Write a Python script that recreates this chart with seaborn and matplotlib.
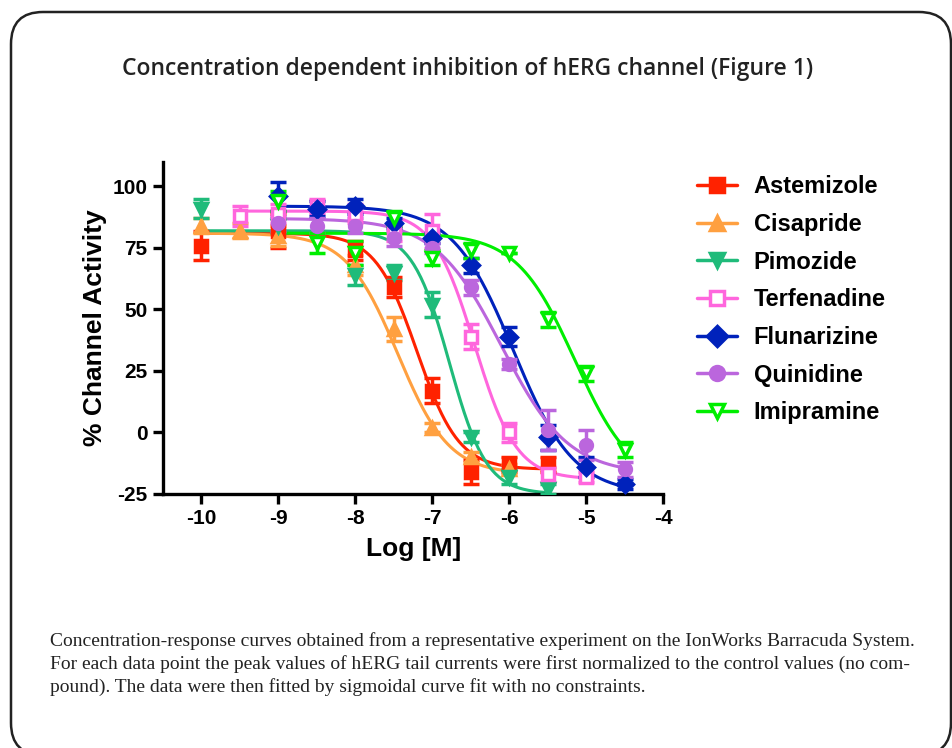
import numpy as np
import pandas as pd
import seaborn as sns
import matplotlib.pyplot as plt
from matplotlib.patches import FancyBboxPatch
from matplotlib.lines import Line2D

# dados (log[M], % atividade, erro)
compounds = ['Astemizole', 'Cisapride', 'Pimozide', 'Terfenadine',
             'Flunarizine', 'Quinidine', 'Imipramine']

astemizole_x = [-10, -9, -8, -7.5, -7, -6.5, -6, -5.5]
astemizole_y = [76, 82, 74, 59, 17, -16, -13, -13]
astemizole_e = [6, 7, 4, 4, 5, 5, 3, 3]

cisapride_x = [-10, -9.5, -9, -8, -7.5, -7, -6.5, -6]
cisapride_y = [84, 82, 80, 68, 42, 2, -10, -15]
cisapride_e = [3, 3, 4, 4, 5, 2, 2, 2]

pimozide_x = [-10, -9, -8, -7.5, -7, -6.5, -6, -5.5]
pimozide_y = [91, 84, 64, 65, 52, -2, -18, -23]
pimozide_e = [4, 3, 4, 3, 5, 2, 3, 2]

terfenadine_x = [-9.5, -9, -8.5, -8, -7.5, -7, -6.5, -6, -5.5, -5]
terfenadine_y = [88, 89, 92, 89, 81, 82, 39, 0, -17, -18]
terfenadine_e = [4, 4, 3, 4, 3, 7, 5, 4, 3, 2]

flunarizine_x = [-9, -8.5, -8, -7.5, -7, -6.5, -6, -5.5, -5, -4.5]
flunarizine_y = [96, 91, 92, 85, 79, 68, 39, -2, -14, -21]
flunarizine_e = [6, 3, 3, 2, 2, 3, 4, 5, 4, 2]

quinidine_x = [-9, -8.5, -8, -7.5, -7, -6.5, -6, -5.5, -5, -4.5]
quinidine_y = [85, 84, 84, 79, 75, 59, 28, 1, -5, -15]
quinidine_e = [3, 3, 3, 3, 2, 3, 2, 8, 6, 3]

imipramine_x = [-9, -8.5, -8, -7.5, -7, -6.5, -6, -5.5, -5, -4.5]
imipramine_y = [94, 77, 73, 87, 71, 74, 73, 46, 24, -7]
imipramine_e = [4, 4, 5, 3, 3, 3, 0, 3, 3, 3]

# parametros do ajuste sigmoidal (topo, base, logIC50, hill)
fit_top = [81, 81, 82, 90, 92, 87, 81]
fit_bottom = [-15, -17, -25, -19, -25, -17, -22]
fit_logic50 = [-7.2, -7.45, -6.78, -6.45, -5.95, -6.1, -5.15]
fit_hill = [1.6, 1.3, 1.8, 1.6, 1.1, 1.0, 1.15]

colors = ['#ff2200', '#ffa040', '#1fbb7a', '#ff66dd', '#0022bb', '#bb66dd', '#00ee00']
markers = ['s', '^', 'v', 's', 'D', 'o', 'v']
open_marker = [False, False, False, True, False, False, True]

xs = [astemizole_x, cisapride_x, pimozide_x, terfenadine_x, flunarizine_x, quinidine_x, imipramine_x]
ys = [astemizole_y, cisapride_y, pimozide_y, terfenadine_y, flunarizine_y, quinidine_y, imipramine_y]
es = [astemizole_e, cisapride_e, pimozide_e, terfenadine_e, flunarizine_e, quinidine_e, imipramine_e]

# curvas ajustadas
rows = []
for i, name in enumerate(compounds):
    grid = np.linspace(min(xs[i]), max(xs[i]), 200)
    fit = fit_bottom[i] + (fit_top[i] - fit_bottom[i]) / (1 + 10 ** ((grid - fit_logic50[i]) * fit_hill[i]))
    rows.append(pd.DataFrame({'logM': grid, 'activity': fit, 'compound': name}))
curves_df = pd.concat(rows)

sns.set_style('ticks')
plt.rcParams['font.family'] = ['Liberation Sans', 'DejaVu Sans']
plt.rcParams['axes.unicode_minus'] = False
plt.rcParams['text.color'] = 'black'
plt.rcParams['axes.labelcolor'] = 'black'
plt.rcParams['xtick.color'] = 'black'
plt.rcParams['ytick.color'] = 'black'
plt.rcParams['axes.edgecolor'] = 'black'

fig = plt.figure(figsize=(9.53, 7.48), dpi=100)
ax = fig.add_axes([0.171, 0.3396, 0.525, 0.444])

sns.lineplot(data=curves_df, x='logM', y='activity', hue='compound', hue_order=compounds,
             palette=colors, linewidth=2.2, legend=False, ax=ax)

for i, name in enumerate(compounds):
    face = 'white' if open_marker[i] else colors[i]
    ax.errorbar(xs[i], ys[i], yerr=es[i], fmt=markers[i], color=colors[i],
                markerfacecolor=face, markeredgecolor=colors[i], markeredgewidth=2.5,
                markersize=8.5, elinewidth=2.5, capsize=6, capthick=3, zorder=3)

ax.set_xlim(-10.5, -4)
ax.set_ylim(-25, 110)
ax.set_xticks([-10, -9, -8, -7, -6, -5, -4])
ax.set_yticks([-25, 0, 25, 50, 75, 100])
sns.despine(ax=ax)
for s in ['left', 'bottom']:
    ax.spines[s].set_linewidth(2.4)
ax.tick_params(width=2.4, length=7, labelsize=15, pad=4, colors='black')
for lab in ax.get_xticklabels() + ax.get_yticklabels():
    lab.set_fontweight('bold')
ax.set_xlabel('Log [M]', fontsize=19, fontweight='bold', labelpad=6)
ax.set_ylabel('% Channel Activity', fontsize=19, fontweight='bold', labelpad=4)

handles = []
for i, name in enumerate(compounds):
    face = 'white' if open_marker[i] else colors[i]
    handles.append(Line2D([0], [0], color=colors[i], marker=markers[i], markersize=10,
                          markerfacecolor=face, markeredgecolor=colors[i],
                          markeredgewidth=2.5, linewidth=2.5, label=name))
fig.legend(handles=handles, loc='upper left', bbox_to_anchor=(0.709, 0.794),
           frameon=False, prop={'weight': 'bold', 'size': 17}, handlelength=1.7,
           labelspacing=0.62, handletextpad=0.7)

fig.text(0.491, 0.908, 'Concentration dependent inhibition of hERG channel (Figure 1)',
         ha='center', va='center', fontsize=16.5, fontweight='semibold', color='#222222',
         family=['Open Sans', 'DejaVu Sans'])

caption = ('Concentration-response curves obtained from a representative experiment on the IonWorks Barracuda System.\n'
           'For each data point the peak values of hERG tail currents were first normalized to the control values (no com-\n'
           'pound). The data were then fitted by sigmoidal curve fit with no constraints.')
fig.text(0.052, 0.112, caption, ha='left', va='center', fontsize=14, color='#222222',
         family=['Liberation Serif', 'DejaVu Serif'], linespacing=1.38)

frame = FancyBboxPatch((0.11, -0.07), 9.40, 7.43, boxstyle='round,pad=0,rounding_size=0.32',
                       transform=fig.dpi_scale_trans, fill=False, edgecolor='#222222',
                       linewidth=1.8, clip_on=False)
fig.patches.append(frame)

fig.savefig('out.png', dpi=100)
